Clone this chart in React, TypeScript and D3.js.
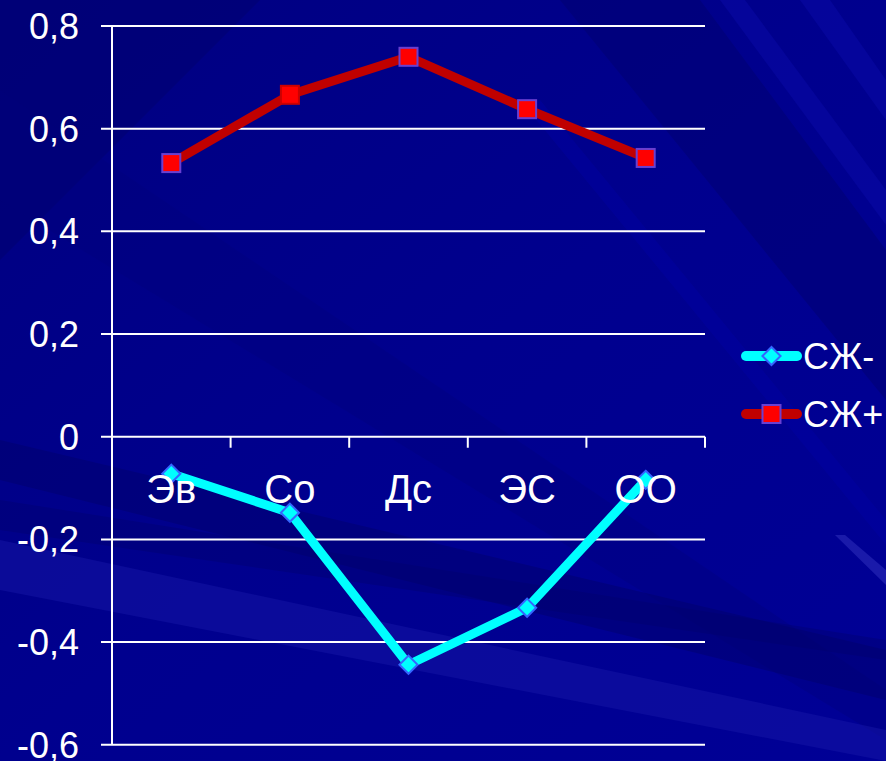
import React from "react";
import * as d3 from "d3";

const categories = ["Эв", "Со", "Дс", "ЭС", "ОО"];
const seriesNames = ["СЖ-", "СЖ+"];
const valuesMinus = [-0.072, -0.148, -0.444, -0.333, -0.084];
const valuesPlus = [0.533, 0.666, 0.74, 0.638, 0.543];
const yTicks = [-0.6, -0.4, -0.2, 0, 0.2, 0.4, 0.6, 0.8];

const W = 886;
const H = 761;
const FONT = "'Liberation Sans', Arial, sans-serif";

export default function App() {
  const left = 112;
  const right = 705;
  const top = 26;
  const bottom = 744.8;

  const x = d3.scaleBand<string>().domain(categories).range([left, right]).padding(0);
  const y = d3.scaleLinear().domain([-0.6, 0.8]).range([bottom, top]);
  const cx = (c: string) => (x(c) as number) + x.bandwidth() / 2;

  const line = d3
    .line<number>()
    .x((_, i) => cx(categories[i]))
    .y((v) => y(v));

  const fmt = (v: number) => (v === 0 ? "0" : d3.format(".1f")(v).replace(".", ",").replace("−", "-"));

  const boundaries = d3.range(categories.length + 1).map((i) => left + i * x.bandwidth());

  // background rays (decorative)
  const rays = [
    { pts: "0,0 260,0 0,260", fill: "#00006e", op: 0.5 },
    { pts: "0,90 0,200 886,740 886,690", fill: "#00007a", op: 0.35 },
    { pts: "0,440 0,480 886,700 886,650", fill: "#00006a", op: 0.45 },
    { pts: "0,500 0,530 886,660 886,640", fill: "#00006a", op: 0.35 },
    { pts: "0,540 0,590 886,761 886,730", fill: "#1818a8", op: 0.45 },
    { pts: "560,0 700,0 886,250 886,400", fill: "#000070", op: 0.5 },
    { pts: "720,0 745,0 886,190 886,225", fill: "#0a0aa8", op: 0.5 },
    { pts: "800,0 830,0 886,80 886,120", fill: "#0a0aa8", op: 0.5 },
    { pts: "520,100 540,100 886,520 886,545", fill: "#0000a8", op: 0.35 },
    { pts: "835,535 845,535 886,570 886,585", fill: "#3434c0", op: 0.5 },
  ];

  const diamond = d3.symbol().type(d3.symbolDiamond2).size(210)();

  return (
    <svg
      width={W}
      height={H}
      style={{ position: "absolute", left: 0, top: 0, display: "block" }}
      fontFamily={FONT}
    >
      <defs>
        <linearGradient id="bg" x1="0" y1="0" x2="1" y2="1">
          <stop offset="0" stopColor="#000080" />
          <stop offset="0.5" stopColor="#00008e" />
          <stop offset="1" stopColor="#000096" />
        </linearGradient>
      </defs>
      <rect x={0} y={0} width={W} height={H} fill="url(#bg)" />
      {rays.map((r, i) => (
        <polygon key={i} points={r.pts} fill={r.fill} opacity={r.op} />
      ))}

      {/* gridlines */}
      {yTicks.map((t) => (
        <line
          key={t}
          x1={left - 11}
          x2={right}
          y1={y(t)}
          y2={y(t)}
          stroke="#ffffff"
          strokeWidth={2}
        />
      ))}
      {/* y axis */}
      <line x1={left} x2={left} y1={top} y2={bottom} stroke="#ffffff" strokeWidth={2} />
      {/* category ticks */}
      {boundaries.map((bx, i) => (
        <line key={i} x1={bx} x2={bx} y1={y(0)} y2={y(0) + 11} stroke="#ffffff" strokeWidth={2} />
      ))}
      {/* y labels */}
      {yTicks.map((t) => (
        <text
          key={t}
          x={79}
          y={y(t)}
          dy="0.36em"
          textAnchor="end"
          fill="#ffffff"
          fontSize={36}
        >
          {fmt(t)}
        </text>
      ))}

      {/* series lines */}
      <path d={line(valuesMinus) || ""} fill="none" stroke="#00ffff" strokeWidth={9} strokeLinejoin="round" />
      <path d={line(valuesPlus) || ""} fill="none" stroke="#c00000" strokeWidth={9} strokeLinejoin="round" />

      {valuesMinus.map((v, i) => (
        <path
          key={i}
          d={diamond || ""}
          transform={`translate(${cx(categories[i])},${y(v)})`}
          fill="#00ffff"
          stroke="#3366ff"
          strokeWidth={2}
        />
      ))}
      {valuesPlus.map((v, i) => (
        <rect
          key={i}
          x={cx(categories[i]) - 9}
          y={y(v) - 9}
          width={18}
          height={18}
          fill="#ff0000"
          stroke={i === 1 ? "#cc0000" : "#6a3fd0"}
          strokeWidth={2}
        />
      ))}

      {/* category labels */}
      {categories.map((c) => (
        <text key={c} x={cx(c)} y={y(0) + 66} textAnchor="middle" fill="#ffffff" fontSize={40}>
          {c}
        </text>
      ))}

      {/* legend */}
      {seriesNames.map((name, i) => {
        const ly = 356 + i * 58;
        return (
          <g key={name}>
            <line
              x1={746}
              x2={797}
              y1={ly}
              y2={ly}
              stroke={i === 0 ? "#00ffff" : "#c00000"}
              strokeWidth={10}
              strokeLinecap="round"
            />
            {i === 0 ? (
              <path
                d={diamond || ""}
                transform={`translate(771.5,${ly})`}
                fill="#00ffff"
                stroke="#3366ff"
                strokeWidth={2}
              />
            ) : (
              <rect x={762.5} y={ly - 9} width={18} height={18} fill="#ff0000" stroke="#6a3fd0" strokeWidth={2} />
            )}
            <text x={803} y={ly} dy="0.36em" fill="#ffffff" fontSize={36}>
              {name}
            </text>
          </g>
        );
      })}
    </svg>
  );
}
